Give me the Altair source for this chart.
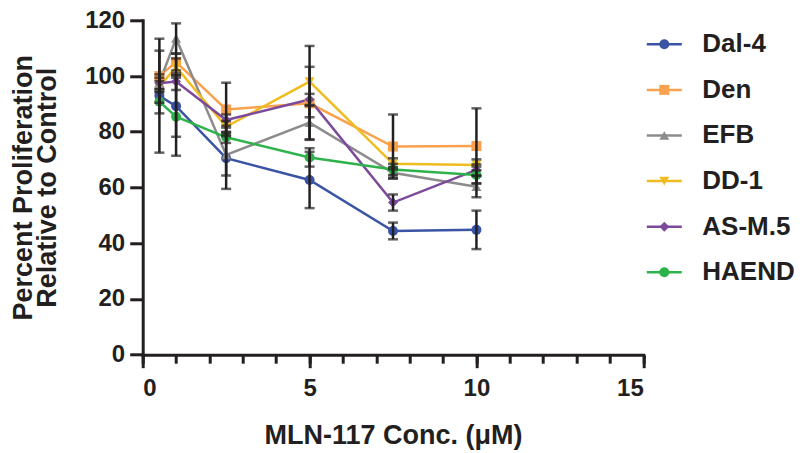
import altair as alt
import pandas as pd

# ---- data ----
conc = [0.5, 1, 2.5, 5, 7.5, 10]
series_names = ["Dal-4", "Den", "EFB", "DD-1", "AS-M.5", "HAEND"]

dal4 = [92.9, 89.2, 70.5, 62.7, 44.4, 44.8]
dal4_err = [2.5, 11.0, 11.0, 10.1, 3.0, 6.9]
den = [100.0, 105.0, 88.0, 90.2, 74.7, 74.9]
den_err = [13.4, 3.0, 9.6, 13.1, 11.5, 13.5]
efb = [97.6, 113.5, 71.7, 83.3, 65.3, 60.3]
efb_err = [3.0, 5.4, 7.4, 6.0, 2.0, 3.8]
dd1 = [96.2, 103.3, 81.8, 98.0, 68.5, 68.1]
dd1_err = [2.0, 3.0, 2.0, 12.8, 2.0, 2.0]
asm5 = [97.4, 98.0, 84.2, 91.6, 54.6, 66.3]
asm5_err = [2.0, 3.0, 2.0, 2.0, 2.9, 2.0]
haend = [90.8, 85.4, 78.0, 70.8, 66.5, 64.5]
haend_err = [18.3, 14.0, 2.0, 3.3, 2.0, 3.0]

x_major_ticks = [0, 5, 10, 15]
x_minor_ticks = list(range(0, 16))
y_ticks = [0, 20, 40, 60, 80, 100, 120]

colors = ["#3A54A5", "#F9A14C", "#8C8C8C", "#F0BC1F", "#7D4A9B", "#2EB34B"]
shapes = ["circle", "square", "triangle-up", "triangle-down", "diamond", "circle"]
sizes = [100, 100, 110, 130, 90, 177]

values = [dal4, den, efb, dd1, asm5, haend]
errors = [dal4_err, den_err, efb_err, dd1_err, asm5_err, haend_err]

rows = []
for name, vals, errs in zip(series_names, values, errors):
    for c, v, e in zip(conc, vals, errs):
        rows.append({"series": name, "series_line": name, "conc": c,
                     "value": v, "lo": v - e, "hi": v + e})
df = pd.DataFrame(rows)

FONT = "Liberation Sans"
INK = "#231F20"

xscale = alt.Scale(domain=[0, 15], nice=False, zero=False)
yscale = alt.Scale(domain=[0, 120], nice=False)

y_axis = alt.Axis(values=y_ticks, tickSize=13, tickWidth=3, domainWidth=3,
                  domainCap="square", tickColor=INK, domainColor=INK,
                  labelFont=FONT, labelFontSize=24, labelFontWeight="bold",
                  labelColor=INK, labelPadding=5, grid=False,
                  title=["Percent Proliferation", "Relative to Control"],
                  titleFont=FONT, titleFontSize=27, titleFontWeight="bold",
                  titleColor=INK, titleLineHeight=24, titleX=-105, titleY=167,
                  titleAngle=270, titleBaseline="bottom", titleAlign="center")

x_axis = alt.Axis(values=x_major_ticks, tickSize=13, tickWidth=3, domainWidth=3,
                  domainCap="square", tickColor=INK, domainColor=INK,
                  labelFont=FONT, labelFontSize=24, labelFontWeight="bold",
                  labelColor=INK, labelPadding=9, grid=False, orient="bottom",
                  title="MLN-117 Conc. (\u03bcM)", titleFont=FONT,
                  titleFontSize=27, titleFontWeight="bold", titleColor=INK,
                  titleY=89, titleBaseline="alphabetic")

x_minor_axis = alt.Axis(values=x_minor_ticks, tickSize=8.5, tickWidth=3,
                        tickColor=INK, domain=False, labels=False, orient="bottom",
                        title=None, grid=False)

base = alt.Chart(df)

LEG_X = 508.6
LEG_Y = 11
LEG_OFF = 25

line_legend = alt.Legend(orient="none", legendX=LEG_X, legendY=LEG_Y, title=None,
                         symbolType="M-3.5,0H3.5", symbolSize=100,
                         symbolStrokeWidth=2.5, symbolFillColor="transparent",
                         labelOpacity=0, labelFont=FONT, labelFontSize=26,
                         labelFontWeight="bold", labelOffset=LEG_OFF,
                         rowPadding=19.6, padding=0)

point_legend = alt.Legend(orient="none", legendX=LEG_X, legendY=LEG_Y, title=None,
                          symbolStrokeWidth=0, symbolOpacity=1,
                          labelFont=FONT, labelFontSize=26,
                          labelFontWeight="bold", labelColor=INK, labelOffset=LEG_OFF,
                          rowPadding=19.6, padding=0)

lines = base.mark_line(strokeWidth=2.5).encode(
    x=alt.X("conc:Q", scale=xscale, axis=None),
    y=alt.Y("value:Q", scale=yscale, axis=y_axis),
    color=alt.Color("series_line:N",
                    scale=alt.Scale(domain=series_names, range=colors),
                    sort=series_names, legend=line_legend),
    detail="series:N",
)

err_rules = base.mark_rule(color=INK, strokeWidth=2.5).encode(
    x=alt.X("conc:Q", scale=xscale, axis=None),
    y=alt.Y("lo:Q", scale=yscale, axis=y_axis),
    y2="hi:Q",
)

cap_lo = base.mark_tick(color=INK, thickness=2.5, size=10, orient="horizontal").encode(
    x=alt.X("conc:Q", scale=xscale, axis=None),
    y=alt.Y("lo:Q", scale=yscale, axis=y_axis),
)
cap_hi = base.mark_tick(color=INK, thickness=2.5, size=10, orient="horizontal").encode(
    x=alt.X("conc:Q", scale=xscale, axis=None),
    y=alt.Y("hi:Q", scale=yscale, axis=y_axis),
)

points = base.mark_point(filled=True, opacity=1).encode(
    x=alt.X("conc:Q", scale=xscale, axis=x_axis),
    y=alt.Y("value:Q", scale=yscale, axis=y_axis),
    color=alt.Color("series:N", scale=alt.Scale(domain=series_names, range=colors),
                    sort=series_names, legend=point_legend),
    shape=alt.Shape("series:N", scale=alt.Scale(domain=series_names, range=shapes),
                    sort=series_names, legend=point_legend),
    size=alt.Size("series:N", scale=alt.Scale(domain=series_names, range=sizes),
                  sort=series_names, legend=point_legend),
)

minor = base.mark_point(opacity=0).encode(
    x=alt.X("conc:Q", scale=xscale, axis=x_minor_axis),
    y=alt.Y("value:Q", scale=yscale, axis=y_axis),
)

chart = alt.layer(lines, points, err_rules, cap_lo, cap_hi, minor).resolve_scale(
    color="independent", shape="independent", size="independent"
).resolve_legend(
    color="independent", shape="independent", size="independent"
).resolve_axis(x="independent").properties(
    width=500.6, height=334.4,
    background="white",
    autosize=alt.AutoSizeParams(type="none"),
    padding={"left": 134.7, "top": 12.3, "right": 150.7, "bottom": 98},
).configure_view(stroke=None)

chart.save("out.html", embed_options={"renderer": "svg", "actions": False})
